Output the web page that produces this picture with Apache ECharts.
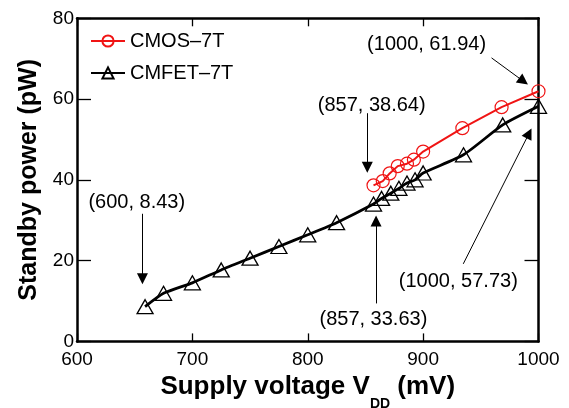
<!DOCTYPE html>
<html><head><meta charset="utf-8">
<script src="https://cdn.jsdelivr.net/npm/echarts@6/dist/echarts.min.js"></script>
<style>html,body{margin:0;padding:0;background:#fff}#c{width:569px;height:408px}</style>
</head><body><div id="c"></div>
<script>
// ---- data ----
const xTickMin = 600, xTickMax = 1000, xTickStep = 100;
const yTickMin = 0, yTickMax = 80, yTickStep = 20;
const seriesNames = ['CMOS\u20137T', 'CMFET\u20137T'];
const cmosVdd   = [857, 865, 871, 878, 886, 892, 900, 934, 968, 1000];
const cmosPower = [38.64, 39.7, 41.6, 43.4, 44.0, 45.0, 47.0, 52.8, 58.0, 61.94];
const cmfetVdd   = [659, 675, 700, 725, 750, 775, 800, 825, 857, 864, 872, 879, 886, 893, 900, 935, 969, 1000];
const cmfetPower = [8.6, 11.9, 14.5, 17.7, 20.6, 23.5, 26.4, 29.4, 34.0, 35.4, 36.7, 37.9, 39.2, 40.0, 41.7, 46.2, 53.6, 58.2];
const annText = ['(600, 8.43)', '(857, 38.64)', '(1000, 61.94)', '(857, 33.63)', '(1000, 57.73)'];
const annAt   = [[651.8, 34.5], [855.4, 58.3], [903, 73.4], [856.9, 5.5], [930.5, 14.8]];
const arrowFrom = [[656.7, 31.6], [851.6, 56.5], [959.3, 70.2], [859.2, 9.4], [934.8, 19.2]];
const arrowTo   = [[656.7, 15.5], [851.6, 43.1], [987.0, 64.4], [859.2, 29.8], [991.8, 51.5]];

// ---- chart ----
const FF = '"Liberation Sans", Arial, Helvetica, sans-serif';
const RED = '#f01414';
const chart = echarts.init(document.getElementById('c'), null, {renderer: 'canvas'});
const zip = (a, b) => a.map((v, i) => [v, b[i]]);
const axLine = {show: true, onZero: false, lineStyle: {color: '#000', width: 2.5}};
const tick = len => ({show: true, inside: true, length: len, lineStyle: {color: '#000', width: 1.3}});

chart.setOption({
  animation: false,
  textStyle: {fontFamily: FF},
  grid: {left: 77, right: 30.5, top: 18.3, bottom: 66.6, containLabel: false, outerBoundsMode: 'none'},
  legend: {
    data: seriesNames, orient: 'vertical', left: 90, top: 31, padding: 0,
    itemWidth: 34, itemHeight: 14, itemGap: 12,
    textStyle: {fontSize: 20, color: '#000', fontFamily: FF}
  },
  xAxis: [{
    type: 'value', min: xTickMin, max: xTickMax, interval: xTickStep, position: 'bottom',
    axisLine: axLine, axisTick: tick(8), splitLine: {show: false},
    axisLabel: {fontSize: 19, color: '#000', margin: 9, fontFamily: FF, formatter: v => String(v)},
    name: '{a|Supply voltage V}{b|DD}{a| (mV)}', nameLocation: 'middle', nameGap: 32,
    nameTextStyle: {
      rich: {
        a: {fontSize: 26, fontWeight: 'bold', color: '#000', fontFamily: FF, verticalAlign: 'top'},
        b: {fontSize: 14, fontWeight: 'bold', color: '#000', fontFamily: FF, verticalAlign: 'top', padding: [23, 0, 0, 0]}
      }
    }
  }, {
    type: 'value', min: xTickMin, max: xTickMax, interval: xTickStep, position: 'top',
    axisLine: axLine, axisTick: tick(8), splitLine: {show: false}, axisLabel: {show: false}
  }],
  yAxis: [{
    type: 'value', min: yTickMin, max: yTickMax, interval: yTickStep, position: 'left',
    axisLine: axLine, axisTick: tick(14), splitLine: {show: false},
    axisLabel: {fontSize: 19, color: '#000', margin: 3, fontFamily: FF},
    name: 'Standby power (pW)', nameLocation: 'middle', nameGap: 33,
    nameTextStyle: {fontSize: 25, fontWeight: 'bold', color: '#000', fontFamily: FF}
  }, {
    type: 'value', min: yTickMin, max: yTickMax, interval: yTickStep, position: 'right',
    axisLine: axLine, axisTick: tick(14), splitLine: {show: false}, axisLabel: {show: false}
  }],
  series: [{
    name: seriesNames[1], type: 'line', data: zip(cmfetVdd, cmfetPower), smooth: 0.2,
    symbol: 'triangle', symbolSize: [16, 14], showAllSymbol: true,
    itemStyle: {color: 'rgba(255,255,255,0)', borderColor: '#000', borderWidth: 1.3},
    lineStyle: {color: '#000', width: 2.8}, emphasis: {disabled: true}, z: 3
  }, {
    name: seriesNames[0], type: 'line', data: zip(cmosVdd, cmosPower),
    symbol: 'circle', symbolSize: 13, showAllSymbol: true,
    itemStyle: {color: 'rgba(255,255,255,0)', borderColor: RED, borderWidth: 1.2},
    lineStyle: {color: RED, width: 2}, emphasis: {disabled: true}, z: 4
  }, {
    name: 'annotations', type: 'scatter', silent: true,
    data: annText.map((t, i) => ({name: t, value: annAt[i]})),
    symbolSize: 1, itemStyle: {color: 'rgba(0,0,0,0)', opacity: 1},
    label: {show: true, position: 'inside', formatter: '{b}', fontSize: 20, color: '#000',
            opacity: 1, textBorderWidth: 0, fontFamily: FF},
    markLine: {
      silent: true, animation: false, symbol: ['none', 'triangle'], symbolSize: 11,
      label: {show: false},
      lineStyle: {color: '#000', width: 1, type: 'solid', opacity: 1},
      data: arrowFrom.map((p, i) => [{coord: p}, {coord: arrowTo[i]}])
    }
  }]
});
</script></body></html>
